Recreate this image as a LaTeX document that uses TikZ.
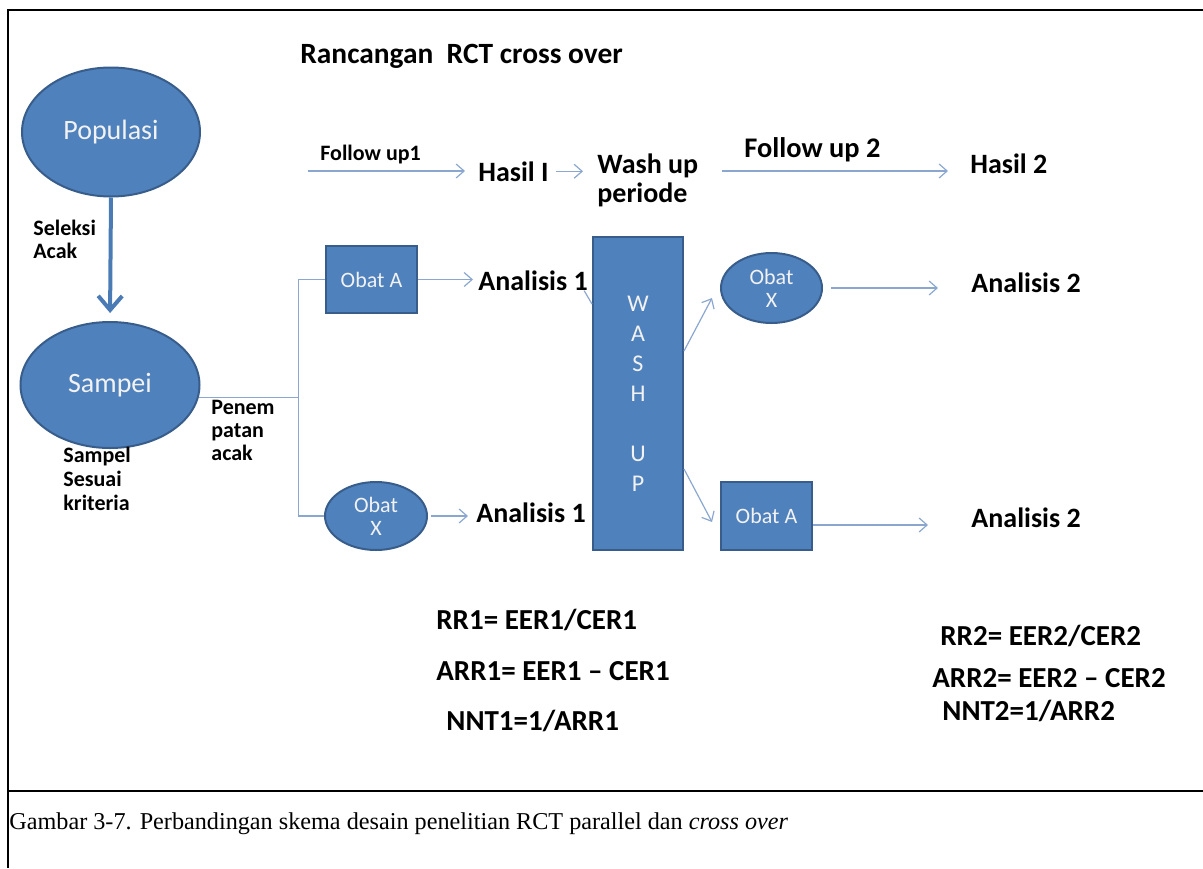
\documentclass[tikz,border=0pt]{standalone}
\usepackage{xcolor}
\usepackage{fontspec}
\setmainfont{Liberation Serif}
\newfontfamily\calibri{Carlito}
\usepackage{tikz}
\usetikzlibrary{shapes.geometric,arrows.meta}

\definecolor{fillblue}{HTML}{4F81BD}
\definecolor{edgeblue}{HTML}{385D8A}
\definecolor{lineblue}{HTML}{8BA7D0}
\definecolor{nodetext}{HTML}{F2F2F2}

\begin{document}
\begin{tikzpicture}[x=0.5pt,y=-0.5pt,
    blob/.style={draw=edgeblue, line width=1pt, fill=fillblue, ellipse, inner sep=0pt, text=nodetext, font=\calibri\fontsize{11}{11.5}\selectfont, align=center},
    blk/.style={draw=edgeblue, line width=1pt, fill=fillblue, rectangle, inner sep=0pt, text=nodetext, font=\calibri\fontsize{11}{11.5}\selectfont, align=center},
    lbl/.style={font=\calibri\bfseries\fontsize{14}{14.5}\selectfont, inner sep=0pt, anchor=base west, align=left},
    res/.style={lbl, font=\calibri\bfseries\fontsize{14.5}{15}\selectfont},
    small/.style={font=\calibri\bfseries\fontsize{11}{11.5}\selectfont, inner sep=0pt, anchor=base west, align=left},
    link/.style={draw=lineblue, line width=0.6pt},
    flow/.style={link, -{Straight Barb[length=4pt,width=7pt]}}]
          \useasboundingbox (0,0) rectangle (1203,868);
          % frame and caption
          \draw[line width=1pt] (8,868) -- (8,10) -- (1203,10);
          \draw[line width=1pt] (8,791) -- (1203,791);
          \node[anchor=base west, inner sep=0pt, font=\fontsize{12.1}{14}\selectfont] (caption) at (9,829) {Gambar 3-7. Perbandingan skema desain penelitian RCT parallel dan \textit{cross over}};
          \node[lbl, font=\calibri\bfseries\fontsize{14.7}{15}\selectfont] (title) at (300,63) {Rancangan\ \ RCT cross over};

          \node[blob, minimum width=89pt, minimum height=64.5pt, font=\calibri\fontsize{14}{16}\selectfont] (pop) at (111,132) {Populasi};
          \node[blob, minimum width=89.5pt, minimum height=63pt, font=\calibri\fontsize{14}{16}\selectfont] (samp) at (110,385) {Sampei};
          \draw[line width=2pt, fillblue!95!black, -{Straight Barb[length=7pt,width=12pt]}, shorten >=4pt] (pop.south) -- (samp.north);
          \node[small] (seleksi) at (33,258) {Seleksi\\Acak};
          \node[small, font=\calibri\bfseries\fontsize{11}{12}\selectfont] (sesuai) at (63,510) {Sampel\\Sesuai\\kriteria};
          \node[small, font=\calibri\bfseries\fontsize{11}{11.5}\selectfont] (penem) at (211,460) {Penem\\patan\\acak};

          \node[blk, minimum width=45.5pt, minimum height=33.5pt] (obatA1) at (371.5,279.5) {Obat A};
          \node[blob, minimum width=51pt, minimum height=34pt] (obatX1) at (376,516) {Obat\\X};
          \draw[link] (samp.-8) -- ++(100,0) coordinate (split);
          \draw[link] (obatA1.west) -| (split) |- (obatX1.west);

          \node[lbl] (an1a) at (478,290) {Analisis 1};
          \node[lbl] (an1b) at (476,522) {Analisis 1};
          \draw[flow, shorten >=2.5pt] (obatA1.east) -- (obatA1.east -| an1a.west);
          \draw[flow] ([xshift=1.5pt]obatX1.east) -- ([xshift=-4pt]obatX1.east -| an1b.west);

          % time line
          \node[small] (fu1) at (320,160) {Follow up1};
          \node[lbl] (hasil1) at (478,181) {Hasil I};
          \node[lbl] (washp) at (597,202) {Wash up\\periode};
          \node[small, font=\calibri\bfseries\fontsize{14.2}{15}\selectfont] (fu2) at (744,157) {Follow up 2};
          \node[lbl] (hasil2) at (970,173) {Hasil 2};
          \coordinate (fu1s) at (308,171);
          \coordinate (fu2s) at (722,171);
          \draw[flow, shorten >=6.5pt] (fu1s) -- (fu1s -| hasil1.west);
          \draw[flow, shorten <=3.5pt, shorten >=7pt] (hasil1.east) -- (hasil1.east -| washp.west);
          \draw[flow, shorten >=11pt] (fu2s) -- (fu2s -| hasil2.west);

          \node[blk, minimum width=45pt, minimum height=156.5pt, font=\calibri\fontsize{12}{15}\selectfont] (washup) at (638,393.5) {W\\A\\S\\H\\[15pt]U\\P};
          \draw[link] ([xshift=-2pt]an1a.south east) -- ([yshift=-34pt]washup.north west);

          \node[blob, minimum width=50.5pt, minimum height=35pt] (obatX2) at (771.5,288) {Obat\\X};
          \node[blk, minimum width=45.5pt, minimum height=34pt] (obatA2) at (766.5,516) {Obat A};
          \draw[flow] ([yshift=-57.5pt]washup.north east) -- ([xshift=-4pt,yshift=-5pt]obatX2.west);
          \draw[flow] ([yshift=-116.5pt]washup.north east) -- ([xshift=-4pt,yshift=-3pt]obatA2.west);

          \node[lbl] (an2a) at (971,292) {Analisis 2};
          \node[lbl] (an2b) at (971,527) {Analisis 2};
          \coordinate (oa2) at ([yshift=-4.5pt]obatA2.east);
          \draw[flow] ([xshift=4pt]obatX2.east) -- ([xshift=-16.5pt]obatX2.east -| an2a.west);
          \draw[flow] (oa2) -- ([xshift=-21.5pt]oa2 -| an2b.west);

          % measures
          \node[res] (rr1) at (436,629) {RR1= EER1/CER1};
          \node[res] (arr1) at (436,680) {ARR1= EER1 – CER1};
          \node[res] (nnt1) at (446,730) {NNT1=1/ARR1};
          \node[res] (rr2) at (940,645) {RR2= EER2/CER2};
          \node[res] (arr2) at (932,687) {ARR2= EER2 – CER2};
          \node[res] (nnt2) at (942,720) {NNT2=1/ARR2};
        \end{tikzpicture}
\end{document}
